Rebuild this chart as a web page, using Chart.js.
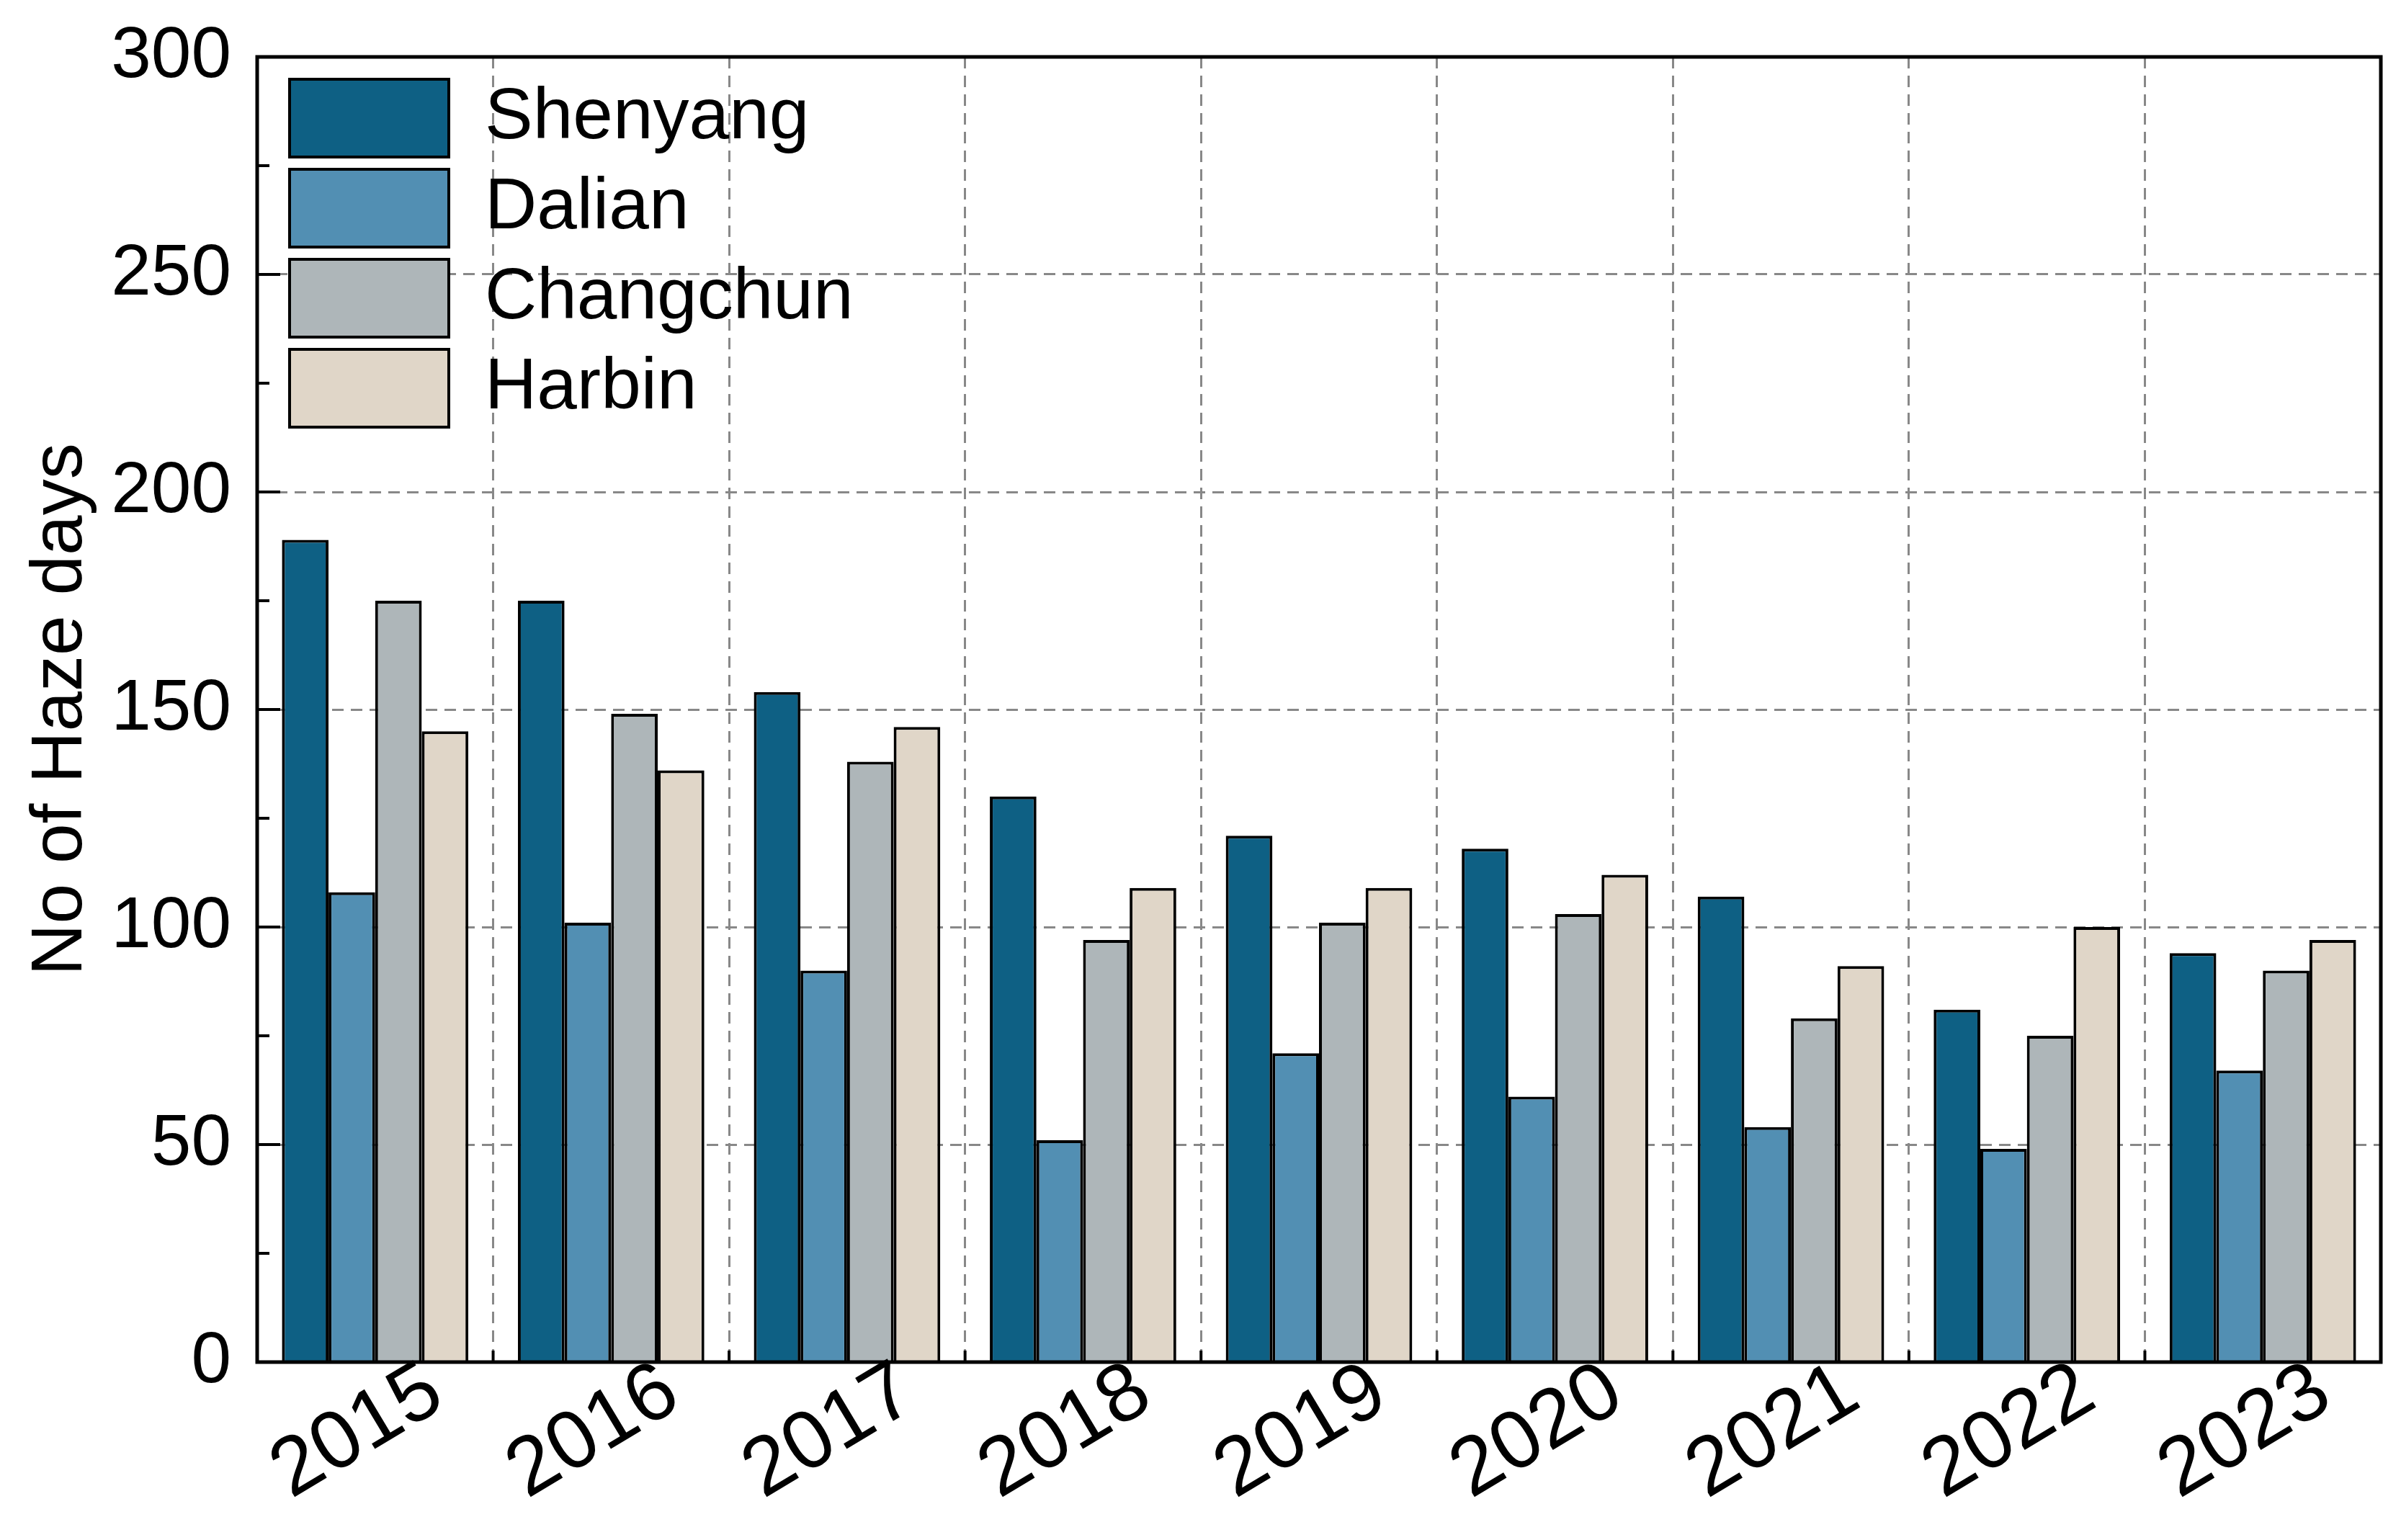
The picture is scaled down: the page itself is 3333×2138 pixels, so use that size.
<!DOCTYPE html>
<html>
<head>
<meta charset="utf-8">
<script src="https://cdn.jsdelivr.net/npm/chart.js@4.4.0/dist/chart.umd.min.js"></script>
<style>
html, body { margin: 0; padding: 0; background: #fff; }
</style>
</head>
<body>
<canvas id="chart" width="3333" height="2138"></canvas>
<script>
const years = ['2015', '2016', '2017', '2018', '2019', '2020', '2021', '2022', '2023'];
const shenyang = [189, 175, 154, 130, 121, 118, 107, 81, 94];
const dalian = [108, 101, 90, 51, 71, 61, 54, 49, 67];
const changchun = [175, 149, 138, 97, 101, 103, 79, 75, 90];
const harbin = [145, 136, 146, 109, 109, 112, 91, 100, 97];
const yMax = 300;
const yStep = 50;

const FONT = "'Liberation Sans', Arial, sans-serif";

// frame, inward ticks and rotated year labels
const framePlugin = {
    id: 'frame',
    afterLayout(chart) {
        // move the legend into the upper left corner of the plot
        const lg = chart.legend;
        const a = chart.chartArea;
        const w = lg.width, h = lg.height;
        lg.left = a.left + 28;
        lg.top = a.top + 14;
        lg.right = lg.left + w;
        lg.bottom = lg.top + h;
    },
    afterDraw(chart) {
        const { ctx, chartArea: a, scales: { x, y } } = chart;
        ctx.save();
        ctx.strokeStyle = '#000';
        ctx.lineWidth = 5;
        ctx.strokeRect(a.left, a.top, a.right - a.left, a.bottom - a.top);

        ctx.lineWidth = 4;
        for (let v = 0; v <= yMax; v += yStep / 2) {
            const py = y.getPixelForValue(v);
            const len = v % yStep === 0 ? 32 : 17;
            ctx.beginPath();
            ctx.moveTo(a.left, py);
            ctx.lineTo(a.left + len, py);
            ctx.stroke();
        }
        for (let i = 0; i <= years.length; i++) {
            const px = x.getPixelForValue(i - 0.5);
            ctx.beginPath();
            ctx.moveTo(px, a.bottom);
            ctx.lineTo(px, a.bottom - 16);
            ctx.stroke();
        }

        ctx.fillStyle = '#000';
        ctx.font = '114px ' + FONT;
        ctx.textAlign = 'center';
        ctx.textBaseline = 'middle';
        years.forEach((yr, i) => {
            const px = x.getPixelForValue(i);
            ctx.save();
            ctx.translate(px - 24, a.bottom + 98);
            ctx.rotate(-31 * Math.PI / 180);
            ctx.fillText(yr, 0, 0);
            ctx.restore();
        });
        ctx.restore();
    }
};

const ctx = document.getElementById('chart').getContext('2d');
new Chart(ctx, {
    type: 'bar',
    data: {
        labels: years,
        datasets: [
            { label: 'Shenyang', data: shenyang, backgroundColor: '#0e6084' },
            { label: 'Dalian', data: dalian, backgroundColor: '#528fb3' },
            { label: 'Changchun', data: changchun, backgroundColor: '#aeb6b9' },
            { label: 'Harbin', data: harbin, backgroundColor: '#e0d6c8' }
        ].map(d => ({ ...d, borderColor: '#000', borderWidth: 4, borderSkipped: 'bottom',
            categoryPercentage: 0.79, barPercentage: 1.0 }))
    },
    options: {
        responsive: false,
        devicePixelRatio: 1,
        animation: false,
        layout: { padding: { left: 0, top: 79, right: 28, bottom: 0 } },
        plugins: {
            legend: {
                position: 'chartArea',
                align: 'start',
                labels: {
                    boxWidth: 221,
                    boxHeight: 108,
                    padding: 17,
                    color: '#000',
                    font: { family: FONT, size: 100 }
                }
            },
            tooltip: { enabled: false }
        },
        scales: {
            x: {
                grid: { color: '#888', lineWidth: 3, drawTicks: false, offset: true },
                border: { display: false, dash: [16, 10] },
                ticks: { display: false },
                afterFit(scale) { scale.height = 247; }
            },
            y: {
                min: 0,
                max: yMax,
                ticks: {
                    stepSize: yStep,
                    padding: 36,
                    color: '#000',
                    font: { family: FONT, size: 100 }
                },
                grid: { color: '#888', lineWidth: 3, drawTicks: false },
                border: { display: false, dash: [16, 10] },
                title: {
                    display: true,
                    text: 'No of Haze days',
                    color: '#000',
                    font: { family: FONT, size: 100 },
                    padding: { top: 25, bottom: 0 }
                },
                afterFit(scale) {
                    scale.width = 357;
                    scale.paddingTop = 0;
                    scale.paddingBottom = 0;
                }
            }
        }
    },
    plugins: [framePlugin]
});
</script>
</body>
</html>
